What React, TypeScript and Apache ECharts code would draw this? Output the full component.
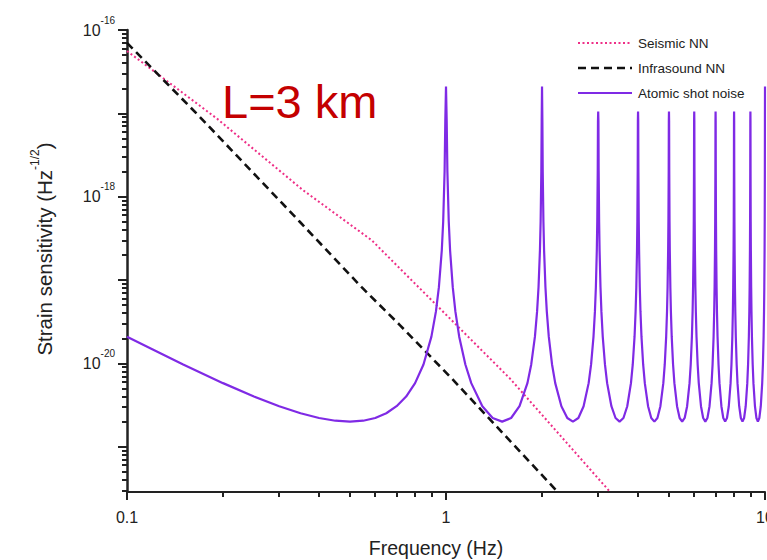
import React, { useEffect, useRef } from "react";
import * as echarts from "echarts";

// Tick positions (raw axis values)
const xMajorTicks = [0.1, 1, 10];
const xMinorTicks = [0.2, 0.3, 0.4, 0.5, 0.6, 0.7, 0.8, 0.9, 2, 3, 4, 5, 6, 7, 8, 9];
const yMajorExponents = [-21, -20, -19, -18, -17, -16];
const yLabelExponents = [-20, -18, -16];
const yMinorMultipliers = [2, 3, 4, 5, 6, 7, 8, 9];
const yMinorDecades = [-22, -21, -20, -19, -18, -17];
const xRange = [0.1, 10];
const yRange = [2.86e-22, 1e-16];

// Series values [frequency (Hz), strain (Hz^-1/2)]
const seismicNN: [number, number][] = [
  [0.1, 5.6e-17], [0.191, 8.7e-18], [0.356, 1.2e-18], [0.585, 3.0e-19],
  [0.726, 1.31e-19], [1.585, 6.6e-21], [3.26, 2.9e-22],
];

const infrasoundNN: [number, number][] = [
  [0.1, 7.0e-17], [0.169, 9.1e-18], [0.348, 5.0e-19], [0.544, 8.2e-20],
  [0.718, 2.86e-20], [1.042, 6.6e-21], [2.24, 2.86e-22],
];

const atomicShotNoise: [number, number][] = [
  [0.1, 2.09e-20], [0.12, 1.48e-20], [0.15, 9.7e-21], [0.2, 5.79e-21], [0.25, 4.0e-21],
  [0.3, 3.06e-21], [0.35, 2.52e-21], [0.4, 2.21e-21], [0.45, 2.05e-21], [0.5, 2.0e-21],
  [0.55, 2.05e-21], [0.6, 2.21e-21], [0.65, 2.52e-21], [0.7, 3.06e-21], [0.75, 4.0e-21],
  [0.8, 5.79e-21], [0.85, 9.7e-21], [0.9, 2.09e-20], [0.93, 4.2e-20], [0.95, 8.2e-20],
  [0.97, 2.26e-19], [0.98, 5.07e-19], [0.99, 2.03e-18], [0.995, 8.1e-18], [1.0, 2.1e-17],

  [1.005, 8.1e-18], [1.01, 2.03e-18], [1.02, 5.07e-19], [1.03, 2.26e-19], [1.05, 8.2e-20],
  [1.07, 4.2e-20], [1.1, 2.09e-20], [1.15, 9.7e-21], [1.2, 5.79e-21], [1.3, 3.06e-21],
  [1.4, 2.21e-21], [1.5, 2.0e-21], [1.6, 2.21e-21], [1.7, 3.06e-21], [1.8, 5.79e-21],
  [1.85, 9.7e-21], [1.9, 2.09e-20], [1.93, 4.2e-20], [1.95, 8.2e-20], [1.97, 2.26e-19],
  [1.98, 5.07e-19], [1.99, 2.03e-18], [1.995, 8.1e-18], [2.0, 2.1e-17],

  [2.005, 8.1e-18], [2.01, 2.03e-18], [2.02, 5.07e-19], [2.03, 2.26e-19], [2.05, 8.2e-20],
  [2.07, 4.2e-20], [2.1, 2.09e-20], [2.15, 9.7e-21], [2.2, 5.79e-21], [2.3, 3.06e-21],
  [2.4, 2.21e-21], [2.5, 2.0e-21], [2.6, 2.21e-21], [2.7, 3.06e-21], [2.8, 5.79e-21],
  [2.85, 9.7e-21], [2.9, 2.09e-20], [2.93, 4.2e-20], [2.95, 8.2e-20], [2.97, 2.26e-19],
  [2.98, 5.07e-19], [2.99, 2.03e-18], [2.995, 8.1e-18], [3.0, 1.05e-17],

  [3.005, 8.1e-18], [3.01, 2.03e-18], [3.02, 5.07e-19], [3.03, 2.26e-19], [3.05, 8.2e-20],
  [3.07, 4.2e-20], [3.1, 2.09e-20], [3.15, 9.7e-21], [3.2, 5.79e-21], [3.3, 3.06e-21],
  [3.4, 2.21e-21], [3.5, 2.0e-21], [3.6, 2.21e-21], [3.7, 3.06e-21], [3.8, 5.79e-21],
  [3.85, 9.7e-21], [3.9, 2.09e-20], [3.93, 4.2e-20], [3.95, 8.2e-20], [3.97, 2.26e-19],
  [3.98, 5.07e-19], [3.99, 2.03e-18], [3.995, 8.1e-18], [4.0, 1.05e-17],

  [4.005, 8.1e-18], [4.01, 2.03e-18], [4.02, 5.07e-19], [4.03, 2.26e-19], [4.05, 8.2e-20],
  [4.07, 4.2e-20], [4.1, 2.09e-20], [4.15, 9.7e-21], [4.2, 5.79e-21], [4.3, 3.06e-21],
  [4.4, 2.21e-21], [4.5, 2.0e-21], [4.6, 2.21e-21], [4.7, 3.06e-21], [4.8, 5.79e-21],
  [4.85, 9.7e-21], [4.9, 2.09e-20], [4.93, 4.2e-20], [4.95, 8.2e-20], [4.97, 2.26e-19],
  [4.98, 5.07e-19], [4.99, 2.03e-18], [4.995, 8.1e-18], [5.0, 1.05e-17],

  [5.005, 8.1e-18], [5.01, 2.03e-18], [5.02, 5.07e-19], [5.03, 2.26e-19], [5.05, 8.2e-20],
  [5.07, 4.2e-20], [5.1, 2.09e-20], [5.15, 9.7e-21], [5.2, 5.79e-21], [5.3, 3.06e-21],
  [5.4, 2.21e-21], [5.5, 2.0e-21], [5.6, 2.21e-21], [5.7, 3.06e-21], [5.8, 5.79e-21],
  [5.85, 9.7e-21], [5.9, 2.09e-20], [5.93, 4.2e-20], [5.95, 8.2e-20], [5.97, 2.26e-19],
  [5.98, 5.07e-19], [5.99, 2.03e-18], [5.995, 8.1e-18], [6.0, 1.05e-17],

  [6.005, 8.1e-18], [6.01, 2.03e-18], [6.02, 5.07e-19], [6.03, 2.26e-19], [6.05, 8.2e-20],
  [6.07, 4.2e-20], [6.1, 2.09e-20], [6.15, 9.7e-21], [6.2, 5.79e-21], [6.3, 3.06e-21],
  [6.4, 2.21e-21], [6.5, 2.0e-21], [6.6, 2.21e-21], [6.7, 3.06e-21], [6.8, 5.79e-21],
  [6.85, 9.7e-21], [6.9, 2.09e-20], [6.93, 4.2e-20], [6.95, 8.2e-20], [6.97, 2.26e-19],
  [6.98, 5.07e-19], [6.99, 2.03e-18], [6.995, 8.1e-18], [7.0, 1.05e-17],

  [7.005, 8.1e-18], [7.01, 2.03e-18], [7.02, 5.07e-19], [7.03, 2.26e-19], [7.05, 8.2e-20],
  [7.07, 4.2e-20], [7.1, 2.09e-20], [7.15, 9.7e-21], [7.2, 5.79e-21], [7.3, 3.06e-21],
  [7.4, 2.21e-21], [7.5, 2.0e-21], [7.6, 2.21e-21], [7.7, 3.06e-21], [7.8, 5.79e-21],
  [7.85, 9.7e-21], [7.9, 2.09e-20], [7.93, 4.2e-20], [7.95, 8.2e-20], [7.97, 2.26e-19],
  [7.98, 5.07e-19], [7.99, 2.03e-18], [7.995, 8.1e-18], [8.0, 1.05e-17],

  [8.005, 8.1e-18], [8.01, 2.03e-18], [8.02, 5.07e-19], [8.03, 2.26e-19], [8.05, 8.2e-20],
  [8.07, 4.2e-20], [8.1, 2.09e-20], [8.15, 9.7e-21], [8.2, 5.79e-21], [8.3, 3.06e-21],
  [8.4, 2.21e-21], [8.5, 2.0e-21], [8.6, 2.21e-21], [8.7, 3.06e-21], [8.8, 5.79e-21],
  [8.85, 9.7e-21], [8.9, 2.09e-20], [8.93, 4.2e-20], [8.95, 8.2e-20], [8.97, 2.26e-19],
  [8.98, 5.07e-19], [8.99, 2.03e-18], [8.995, 8.1e-18], [9.0, 1.05e-17],

  [9.005, 8.1e-18], [9.01, 2.03e-18], [9.02, 5.07e-19], [9.03, 2.26e-19], [9.05, 8.2e-20],
  [9.07, 4.2e-20], [9.1, 2.09e-20], [9.15, 9.7e-21], [9.2, 5.79e-21], [9.3, 3.06e-21],
  [9.4, 2.21e-21], [9.5, 2.0e-21], [9.6, 2.21e-21], [9.7, 3.06e-21], [9.8, 5.79e-21],
  [9.85, 9.7e-21], [9.9, 2.09e-20], [9.93, 4.2e-20], [9.95, 8.2e-20], [9.97, 2.26e-19],
  [9.98, 5.07e-19], [9.99, 2.03e-18], [9.995, 8.1e-18], [10.0, 2.1e-17],
];

const seriesNames = ["Seismic NN", "Infrasound NN", "Atomic shot noise"];
const annotation = "L=3 km";

const lg = (v: number) => Math.log10(v);
const toLog = (pts: [number, number][]) => pts.map(([f, h]) => [lg(f), lg(h)]);

const FONT = "'Liberation Sans', Arial, Helvetica, sans-serif";
const INK = "#222";

const PINK = "#ee2f87";
const BLACK = "#111";
const PURPLE = "#7f2ae5";

const seriesStyles = [
  { color: PINK, width: 2, dash: [2, 2.5] },
  { color: BLACK, width: 2.6, dash: [8, 5] },
  { color: PURPLE, width: 2.2, dash: null as number[] | null },
];

export default function App() {
  const ref = useRef<HTMLDivElement>(null);

  useEffect(() => {
    if (!ref.current) return;
    const chart = echarts.init(ref.current, null, { renderer: "svg" });

    const xMin = lg(xRange[0]);
    const xMax = lg(xRange[1]);
    const yMin = lg(yRange[0]);
    const yMax = lg(yRange[1]);

    const yMinor: number[] = [];
    yMinorDecades.forEach((e) =>
      yMinorMultipliers.forEach((k) => {
        const v = lg(k) + e;
        if (v > yMin && v < yMax) yMinor.push(v);
      })
    );

    const xLabel = (v: number) => {
      const t = xMajorTicks.find((m) => Math.abs(lg(m) - v) < 1e-6);
      return t === undefined ? "" : String(t);
    };

    const tickLine = { color: INK, width: 2 };
    const hiddenLine = { show: true, onZero: false, lineStyle: { color: INK, width: 0, opacity: 0 } };

    // Manual legend drawn with graphic elements
    const legendX = 578;
    const legendY = [43, 68, 93];
    const legendGraphics: any[] = [];
    seriesNames.forEach((name, i) => {
      const st = seriesStyles[i];
      legendGraphics.push({
        type: "line",
        shape: { x1: legendX, y1: legendY[i], x2: legendX + 54, y2: legendY[i] },
        style: {
          stroke: st.color,
          lineWidth: st.width,
          lineDash: st.dash || undefined,
        },
      });
      legendGraphics.push({
        type: "text",
        x: legendX + 60,
        y: legendY[i],
        style: {
          text: name,
          fill: INK,
          fontSize: 13.5,
          fontFamily: FONT,
          align: "left",
          verticalAlign: "middle",
        },
      });
    });

    chart.setOption({
      animation: false,
      textStyle: { fontFamily: FONT },
      grid: { left: 127, right: 2, top: 30, bottom: 68, outerBoundsMode: "none", containLabel: false },
      xAxis: [
        {
          type: "value",
          min: xMin,
          max: xMax,
          interval: 1,
          position: "bottom",
          axisLine: { show: true, onZero: false, lineStyle: { color: INK, width: 2 } },
          axisTick: { show: true, length: 8, lineStyle: tickLine, customValues: xMajorTicks.map(lg) },
          axisLabel: {
            customValues: xMajorTicks.map(lg),
            margin: 17,
            fontSize: 16,
            color: INK,
            formatter: xLabel,
            showMinLabel: true,
            showMaxLabel: true,
          },
          splitLine: { show: false },
          name: "Frequency (Hz)",
          nameLocation: "middle",
          nameGap: 46,
          nameTextStyle: { fontSize: 19.5, color: INK, padding: [0, 20, 0, 0] },
        },
        {
          type: "value",
          min: xMin,
          max: xMax,
          position: "bottom",
          axisLine: hiddenLine,
          axisTick: { show: true, length: 5, lineStyle: tickLine, customValues: xMinorTicks.map(lg) },
          axisLabel: { show: true, customValues: xMinorTicks.map(lg), formatter: () => "" },
          splitLine: { show: false },
        },
      ],
      yAxis: [
        {
          type: "value",
          min: yMin,
          max: yMax,
          position: "left",
          axisLine: { show: true, onZero: false, lineStyle: { color: INK, width: 2.5 } },
          axisTick: { show: true, length: 9, lineStyle: tickLine, customValues: yMajorExponents },
          axisLabel: {
            customValues: yLabelExponents,
            margin: 12,
            color: INK,
            formatter: (v: number) => `{b|10}{s|${Math.round(v)}}`,
            rich: {
              b: { fontSize: 16, color: INK, fontFamily: FONT },
              s: { fontSize: 10, color: INK, fontFamily: FONT, padding: [0, 0, 20, 0] },
            },
          },
          splitLine: { show: false },
          name: "Strain sensitivity (Hz{s|-1/2})",
          nameLocation: "middle",
          nameRotate: 90,
          nameGap: 68,
          nameTextStyle: {
            fontSize: 20.5,
            color: INK,
            padding: [0, 0, 0, 24],
            rich: {
              s: { fontSize: 12, color: INK, fontFamily: FONT, padding: [0, 0, 18, 0] },
            },
          },
        },
        {
          type: "value",
          min: yMin,
          max: yMax,
          position: "left",
          axisLine: hiddenLine,
          axisTick: { show: true, length: 5, lineStyle: tickLine, customValues: yMinor },
          axisLabel: { show: true, customValues: yMinor, formatter: () => "" },
          splitLine: { show: false },
        },
      ],
      series: seriesNames.map((name, i) => ({
        name,
        type: "line",
        data: toLog([seismicNN, infrasoundNN, atomicShotNoise][i]),
        symbol: "none",
        showSymbol: false,
        clip: true,
        lineStyle: {
          color: seriesStyles[i].color,
          width: seriesStyles[i].width,
          type: seriesStyles[i].dash || "solid",
        },
        itemStyle: { color: seriesStyles[i].color },
      })),
      graphic: [
        {
          type: "text",
          x: 222,
          y: 101,
          style: {
            text: annotation,
            fill: "#c40000",
            fontSize: 47,
            fontFamily: FONT,
            align: "left",
            verticalAlign: "middle",
          },
        },
        ...legendGraphics,
      ],
    });

    return () => chart.dispose();
  }, []);

  return (
    <div
      ref={ref}
      style={{ position: "fixed", left: 0, top: 0, width: 767, height: 560, background: "#fff" }}
    />
  );
}
